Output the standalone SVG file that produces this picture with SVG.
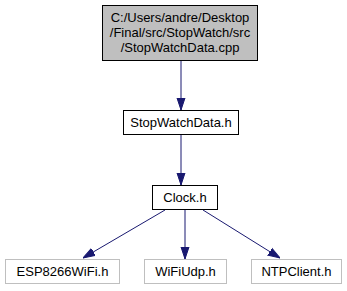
<svg xmlns="http://www.w3.org/2000/svg" width="347" height="291" viewBox="0 0 347 291">
<style>
text{font-family:"Liberation Sans",Arial,sans-serif;font-size:13px;text-anchor:middle;fill:#000}
.n rect{fill:#fff;stroke:#000;stroke-width:1}
.g rect{fill:#fff;stroke:#bfbfbf;stroke-width:1}
.e{stroke:#191970;stroke-width:1;fill:none}
</style>
<defs>
<marker id="a" viewBox="0 0 12 10" refX="12" refY="5" markerWidth="12" markerHeight="10" markerUnits="userSpaceOnUse" orient="auto">
<path d="M0,1 L12,5 L0,9 Z" fill="#191970" stroke="#191970"/>
</marker>
</defs>
<rect width="347" height="291" fill="#fff"/>
<g id="edges">
<line class="e" x1="181" y1="60" x2="181" y2="110" marker-end="url(#a)"/>
<line class="e" x1="181" y1="134" x2="181" y2="185" marker-end="url(#a)"/>
<line class="e" x1="165" y1="210" x2="83" y2="258" marker-end="url(#a)"/>
<line class="e" x1="185" y1="210" x2="185" y2="259" marker-end="url(#a)"/>
<line class="e" x1="203" y1="210" x2="280" y2="258" marker-end="url(#a)"/>
</g>
<g id="node1" class="n">
<rect x="102.5" y="5.5" width="155" height="55" style="fill:#bfbfbf"/>
<text x="180" y="22">C:/Users/andre/Desktop</text>
<text x="180" y="37">/Final/src/StopWatch/src</text>
<text x="180" y="52">/StopWatchData.cpp</text>
</g>
<g id="node2" class="n">
<rect x="123.5" y="110.5" width="115" height="24"/>
<text x="181" y="127">StopWatchData.h</text>
</g>
<g id="node3" class="n">
<rect x="152.5" y="185.5" width="65" height="24"/>
<text x="185" y="202">Clock.h</text>
</g>
<g id="node4" class="g">
<rect x="5.5" y="259.5" width="114" height="24"/>
<text x="62.5" y="276">ESP8266WiFi.h</text>
</g>
<g id="node5" class="g">
<rect x="144.5" y="259.5" width="82" height="24"/>
<text x="185.5" y="276">WiFiUdp.h</text>
</g>
<g id="node6" class="g">
<rect x="251.5" y="259.5" width="90" height="24"/>
<text x="296.5" y="276">NTPClient.h</text>
</g>
</svg>
